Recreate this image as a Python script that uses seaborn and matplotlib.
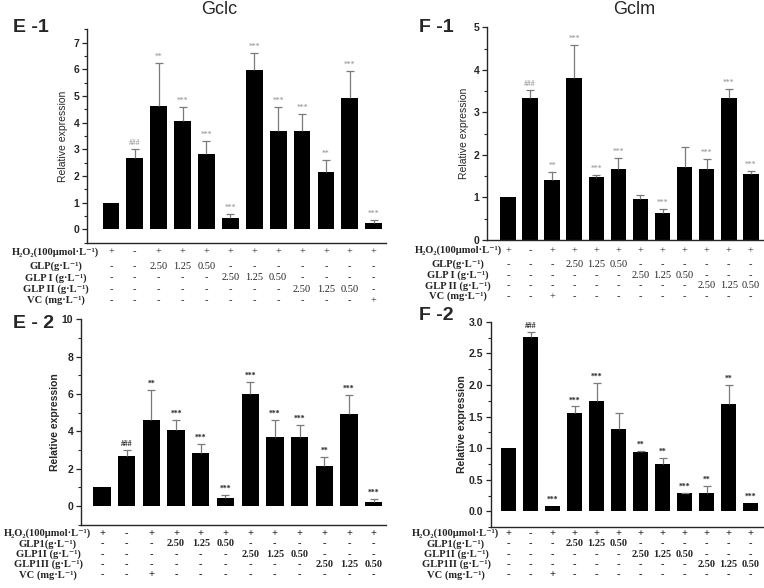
import numpy as np
import pandas as pd
import matplotlib
matplotlib.use("Agg")
import matplotlib.pyplot as plt
import matplotlib.transforms as mtransforms
from matplotlib.ticker import MultipleLocator, FormatStrFormatter
import seaborn as sns

# ---------------- data ----------------
groups = [1, 2, 3, 4, 5, 6, 7, 8, 9, 10, 11, 12]

gclc_mean = [1.00, 2.66, 4.63, 4.08, 2.84, 0.43, 5.99, 3.68, 3.70, 2.16, 4.94, 0.24]
gclc_upper = [1.00, 3.00, 6.22, 4.60, 3.33, 0.59, 6.63, 4.60, 4.34, 2.61, 5.93, 0.36]
gclc_sig = ["", "###", "**", "***", "***", "***", "***", "***", "***", "**", "***", "***"]

gclm1_mean = [1.00, 3.33, 1.40, 3.80, 1.47, 1.67, 0.96, 0.63, 1.71, 1.66, 3.34, 1.54]
gclm1_upper = [1.00, 3.53, 1.59, 4.58, 1.53, 1.93, 1.06, 0.73, 2.19, 1.90, 3.56, 1.62]
gclm1_sig = ["", "###", "**", "***", "***", "***", "", "***", "", "***", "***", "***"]

gclm2_mean = [1.00, 2.76, 0.09, 1.56, 1.75, 1.30, 0.935, 0.745, 0.29, 0.30, 1.70, 0.137]
gclm2_upper = [1.00, 2.83, 0.09, 1.66, 2.03, 1.55, 0.96, 0.85, 0.30, 0.41, 2.00, 0.137]
gclm2_sig = ["", "###", "***", "***", "***", "", "**", "**", "***", "**", "**", "***"]

# treatment tables
h2o2_row = ["+", "-", "+", "+", "+", "+", "+", "+", "+", "+", "+", "+"]
e1_glp = ["-", "-", "2.50", "1.25", "0.50", "-", "-", "-", "-", "-", "-", "-"]
e1_glp1 = ["-", "-", "-", "-", "-", "2.50", "1.25", "0.50", "-", "-", "-", "-"]
e1_glp2 = ["-", "-", "-", "-", "-", "-", "-", "-", "2.50", "1.25", "0.50", "-"]
e1_vc = ["-", "-", "-", "-", "-", "-", "-", "-", "-", "-", "-", "+"]

b_glp = ["-", "-", "-", "2.50", "1.25", "0.50", "-", "-", "-", "-", "-", "-"]
b_glp1 = ["-", "-", "-", "-", "-", "-", "2.50", "1.25", "0.50", "-", "-", "-"]
b_glp2 = ["-", "-", "-", "-", "-", "-", "-", "-", "-", "2.50", "1.25", "0.50"]
b_vc = ["-", "-", "+", "-", "-", "-", "-", "-", "-", "-", "-", "-"]

labels_1 = ["H₂O₂(100μmol·L⁻¹)", "GLP(g·L⁻¹)", "GLP I (g·L⁻¹)",
            "GLP II (g·L⁻¹)", "VC (mg·L⁻¹)"]
labels_2 = ["H₂O₂(100μmol·L⁻¹)", "GLP1(g·L⁻¹)", "GLP1I (g·L⁻¹)",
            "GLP1II (g·L⁻¹)", "VC (mg·L⁻¹)"]

# ---------------- style ----------------
sns.set_style("ticks")
plt.rcParams["font.family"] = ["Liberation Sans", "DejaVu Sans"]
plt.rcParams["axes.linewidth"] = 1.0

W, H = 764, 588
fig = plt.figure(figsize=(W / 100, H / 100), dpi=100)


def add_ax(left, top, right, bottom):
    return fig.add_axes([left / W, 1 - bottom / H, (right - left) / W, (bottom - top) / H])


SERIF = ["Liberation Serif", "DejaVu Serif"]


def panel(box, mean, upper, sig, xlim, ylim, major, minor, fmt, bold, sig_color,
          ylabel_right, row_labels, rows, row_y, label_cx, val_bold):
    ax = add_ax(*box)
    df = pd.DataFrame({"group": groups, "value": mean})
    sns.barplot(data=df, x="group", y="value", color="black", saturation=1,
                width=0.7, errorbar=None, ax=ax, linewidth=0)
    xs = np.arange(len(groups))
    mean_a = np.array(mean)
    up_a = np.array(upper)
    has = up_a - mean_a > 0.005
    ax.vlines(xs[has], mean_a[has], up_a[has], color="#7a7a7a", lw=0.9, zorder=3)
    ax.plot(xs[has], up_a[has], ls="none", marker="_", ms=5.5, mew=0.9,
            color="#7a7a7a", zorder=3)
    for x, u, s in zip(xs, up_a, sig):
        if s:
            ax.annotate(s, (x, u), xytext=(0, 1.5), textcoords="offset points",
                        ha="center", va="bottom", fontsize=5.5, color=sig_color,
                        family=SERIF, fontweight="bold" if bold else "normal")
    ax.set_xlim(*xlim)
    ax.set_ylim(*ylim)
    ax.yaxis.set_major_locator(MultipleLocator(major))
    ax.yaxis.set_minor_locator(MultipleLocator(minor))
    ax.yaxis.set_major_formatter(FormatStrFormatter(fmt))
    ax.tick_params(axis="y", which="major", length=3.5, width=0.9, labelsize=7.5, pad=2)
    ax.tick_params(axis="y", which="minor", length=2, width=0.8)
    for t in ax.get_yticklabels():
        t.set_fontweight("bold")
    ax.tick_params(axis="x", length=0, labelbottom=False)
    ax.set_xlabel("")
    ax.set_ylabel("Relative expression", fontsize=7.5,
                  fontweight="bold" if bold else "normal")
    width_px = box[2] - box[0]
    ax.yaxis.set_label_coords((ylabel_right - box[0]) / width_px, 0.5)
    sns.despine(ax=ax)

    trans = mtransforms.blended_transform_factory(ax.transData, fig.transFigure)
    for lab, row, y in zip(row_labels, rows, row_y):
        fig.text(label_cx / W, 1 - y / H, lab, ha="center", va="center",
                 family=SERIF, fontweight="bold", fontsize=7.6)
        for x, v in zip(xs, row):
            ax.text(x, 1 - y / H, v, transform=trans, ha="center", va="center",
                    family=SERIF, fontsize=7.5, clip_on=False,
                    fontweight="bold" if val_bold else "normal")
    return ax


panel((87, 29.3, 385.7, 242.7), gclc_mean, gclc_upper, gclc_sig,
      (-1.0, 11.5), (-0.5, 7.5), 1, 0.5, "%d", False, "#8a8a8a", 68,
      labels_1, [h2o2_row, e1_glp, e1_glp1, e1_glp2, e1_vc],
      [252, 266.5, 278, 289.5, 300.5], 56, False)

panel((487, 27.3, 763, 240), gclm1_mean, gclm1_upper, gclm1_sig,
      (-0.95, 11.55), (0, 5), 1, 0.5, "%d", False, "#8a8a8a", 469,
      labels_1, [h2o2_row, b_glp, b_glp1, b_glp2, b_vc],
      [250.5, 264.5, 275.5, 286, 296.5], 458, False)

panel((81, 319.3, 386, 524.7), gclc_mean, gclc_upper, gclc_sig,
      (-0.85, 11.5), (-1, 10), 2, 1, "%d", True, "#222222", 60,
      labels_2, [h2o2_row, b_glp, b_glp1, b_glp2, b_vc],
      [533.5, 544, 554.5, 564.5, 575], 48, True)

panel((491, 321.7, 762.7, 527.3), gclm2_mean, gclm2_upper, gclm2_sig,
      (-0.8, 11.55), (-0.25, 3.0), 0.5, 0.25, "%.1f", True, "#222222", 467,
      labels_2, [h2o2_row, b_glp, b_glp1, b_glp2, b_vc],
      [533.5, 544, 554.5, 564.5, 575], 456, True)

# titles and panel letters
fig.text(219 / W, 1 - 10 / H, "Gclc", ha="center", va="center", fontsize=13)
fig.text(634 / W, 1 - 10 / H, "Gclm", ha="center", va="center", fontsize=13)
fig.text(13 / W, 1 - 27 / H, "E -1", ha="left", va="center", fontsize=14, fontweight="bold")
fig.text(419 / W, 1 - 27 / H, "F -1", ha="left", va="center", fontsize=14, fontweight="bold")
fig.text(13 / W, 1 - 323 / H, "E - 2", ha="left", va="center", fontsize=14, fontweight="bold")
fig.text(419 / W, 1 - 316 / H, "F -2", ha="left", va="center", fontsize=14, fontweight="bold")

fig.savefig("out.png", dpi=100)
